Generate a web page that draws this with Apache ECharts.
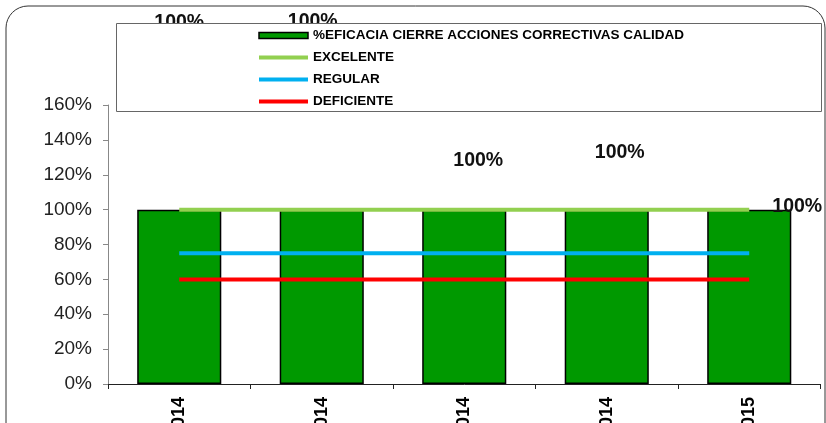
<!DOCTYPE html>
<html><head><meta charset="utf-8">
<script src="https://cdn.jsdelivr.net/npm/echarts@6/dist/echarts.min.js"></script>
<style>html,body{margin:0;padding:0;background:#fff}#c{width:826px;height:423px}</style>
</head><body><div id="c"></div>
<script>
const categories = ["I TRIM 2014", "II TRIM 2014", "III TRIM 2014", "IV TRIM 2014", "I TRIM 2015"];
const eficacia = [1.0, 1.0, 1.0, 1.0, 1.0];
const excelente = [1.0, 1.0, 1.0, 1.0, 1.0];
const regular = [0.75, 0.75, 0.75, 0.75, 0.75];
const deficiente = [0.6, 0.6, 0.6, 0.6, 0.6];
const yTicks = [0, 0.2, 0.4, 0.6, 0.8, 1.0, 1.2, 1.4, 1.6];
const labelOffsets = [[0, -172], [-9, -173], [14, -34], [13, -42], [48, 12]];

const chart = echarts.init(document.getElementById('c'), null, {renderer: 'canvas'});
const pct = v => Math.round(v * 100) + '%';
const FONT = 'Liberation Sans, Arial';
chart.setOption({
  animation: false,
  backgroundColor: '#fff',
  grid: {left: 108, right: 5.5, top: 105, bottom: 39, containLabel: false, outerBoundsMode: 'none'},
  graphic: [
    {type: 'rect', z: 0, silent: true, shape: {x: 6, y: 6, width: 819, height: 460, r: 22},
     style: {fill: 'none', stroke: '#333', lineWidth: 1}},
    {type: 'rect', z: 50, silent: true, shape: {x: 116.5, y: 23.5, width: 705, height: 88},
     style: {fill: '#fff', stroke: '#666', lineWidth: 1}}
  ],
  legend: {
    z: 100, orient: 'vertical', left: 257, top: 28, padding: 0,
    itemWidth: 49, itemHeight: 6, itemGap: 7,
    textStyle: {fontFamily: FONT, fontWeight: 'bold', fontSize: 13.5, color: '#000', lineHeight: 15, padding: [0, 0, 0, 0]},
    data: [
      {name: '%EFICACIA CIERRE ACCIONES CORRECTIVAS CALIDAD', icon: 'rect', itemStyle: {borderColor: '#000', borderWidth: 1.5}},
      {name: 'EXCELENTE', itemStyle: {opacity: 0}, lineStyle: {width: 4}},
      {name: 'REGULAR', itemStyle: {opacity: 0}, lineStyle: {width: 4}},
      {name: 'DEFICIENTE', itemStyle: {opacity: 0}, lineStyle: {width: 4}}
    ]
  },
  xAxis: {
    type: 'category', data: categories, boundaryGap: true,
    axisLine: {lineStyle: {color: '#222', width: 1}},
    axisTick: {show: true, length: 5, inside: false, lineStyle: {color: '#222'}},
    axisLabel: {rotate: 90, margin: 13, fontFamily: FONT, fontWeight: 'bold', fontSize: 18, color: '#000'}
  },
  yAxis: {
    type: 'value', min: 0, max: 1.6, interval: 0.2,
    axisLine: {show: true, lineStyle: {color: '#888'}},
    axisTick: {show: true, length: 5, lineStyle: {color: '#888'}},
    splitLine: {show: false},
    axisLabel: {margin: 16, fontFamily: FONT, fontSize: 19, color: '#222',
      formatter: v => yTicks.some(t => Math.abs(t - v) < 1e-9) ? pct(v) : ''}
  },
  series: [
    {
      name: '%EFICACIA CIERRE ACCIONES CORRECTIVAS CALIDAD', type: 'bar', barCategoryGap: '41%', z: 2,
      itemStyle: {color: '#009900', borderColor: '#000', borderWidth: 1.5},
      label: {show: true, position: 'top', fontFamily: FONT, fontWeight: 'bold', fontSize: 19.5, color: '#111',
        formatter: p => pct(p.value)},
      data: eficacia.map((v, i) => ({value: v, label: {offset: labelOffsets[i]}}))
    },
    {name: 'EXCELENTE', type: 'line', data: excelente, symbol: 'none', z: 5, color: '#92D050', lineStyle: {color: '#92D050', width: 4}},
    {name: 'REGULAR', type: 'line', data: regular, symbol: 'none', z: 5, color: '#00B0F0', lineStyle: {color: '#00B0F0', width: 4}},
    {name: 'DEFICIENTE', type: 'line', data: deficiente, symbol: 'none', z: 5, color: '#FF0000', lineStyle: {color: '#FF0000', width: 4}}
  ]
});
</script></body></html>
